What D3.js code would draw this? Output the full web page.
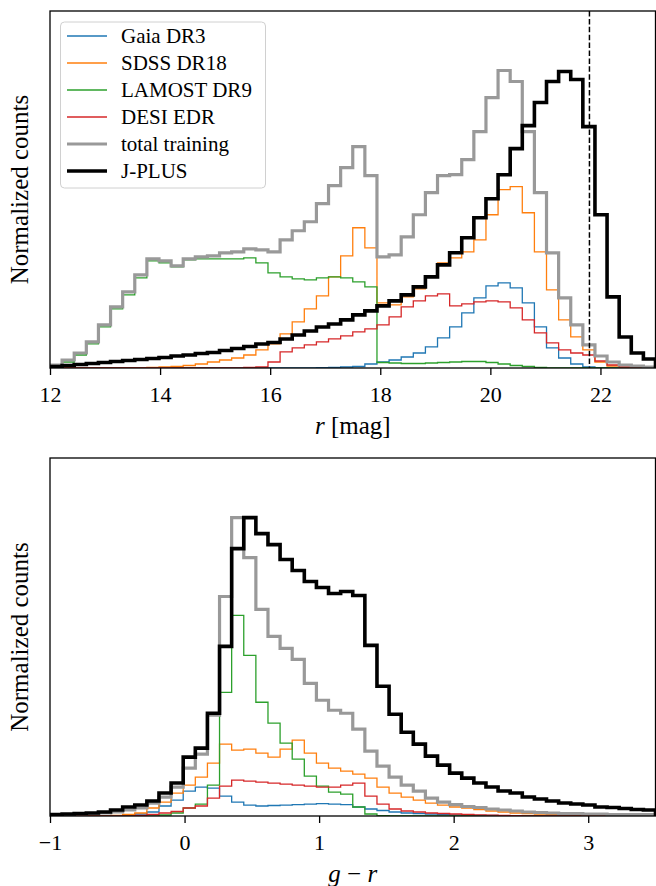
<!DOCTYPE html>
<html lang="en">
<head>
<meta charset="UTF-8">
<title>Training samples vs J-PLUS</title>
<style>
  body { margin: 0; background: #fff; }
  svg { display: block; font-family: "Liberation Serif", "DejaVu Serif", serif; }
  .label { font-size: 25px; fill: #000; }
  .legend text { font-size: 21px; fill: #000; }
</style>
</head>
<body>
<svg width="656" height="886"></svg>
<script src="https://d3js.org/d3.v7.min.js"></script>
<script>
// series, in drawing order
const names = ["Gaia DR3", "SDSS DR18", "LAMOST DR9", "DESI EDR", "total training", "J-PLUS"];
const colors = ["#1f77b4", "#ff7f0e", "#2ca02c", "#d62728", "#999999", "#000000"];
const widths = [1.3, 1.3, 1.3, 1.3, 3.2, 3.6];

// r magnitude histograms, 50 bins between 12 and 23 (normalized counts, arbitrary units)
const rRange = [12, 23];
const rTicks = [12, 14, 16, 18, 20, 22];
const rLimit = 21.8;
const gaiaR   = [0,0,0,0,0,0,0,0,0,0, 0,0,0,0,0,0,0,0,0,0, 0,0,0.3,0.5,1,1.5,4,6,8,11, 15,21,30,41,55,70,82,85,80,65, 41,20,10,4,1,0.3,0,0,0,0];
const sdssR   = [0,0,0,0,0,0,0,0,0.5,1, 1.5,2.5,4,6,8,10,13,18,24,34, 46,59,72,91,112,140,120,65,63,71, 79,92,105,110,116,128,153,178,181,155, 116,78,48,31,18,6,2,0.5,0,0];
const lamostR = [2,6,13,24,41,59,73,90,107,105, 101,108,109,109,109,109,110,105,95,91, 89,88,90,91,90,86,81,5.5,5,4.5, 4.5,5,5.5,6,6.5,6.5,5.5,4,2.5,1.5, 0.5,0.2,0,0,0,0,0,0,0,0];
const desiR   = [0,0,0,0,0,0,0,0,0,0, 0,0,0,0,0,0,0.5,1,6,16, 20,23,26,29,32,36,39,43,51,61, 67,72,74,62,64,66,67,66,60,48, 35,25,18,15,13,7,3,1,0,0];
const totalR  = [3,8,15,26,43,61,76,93,109,107, 102,109,111,112,115,116,119,118,116,128, 137,146,164,182,200,221,192,111,113,131, 153,175,192,193,208,236,270,297,286,236, 175,115,70,43,23,12,6,3,2,1];
const jplusR  = [1.5,2.5,3.5,4.5,5.5,6.5,7.5,8.5,9.5,10.5, 12,13,14.5,15.5,17.5,19.5,21.5,24,25.5,29, 33,37,41,44,48,53,57,62,67,73, 81,91,103,115,130,150,169,193,219,242, 265,286,296,288,241,153,71,31,15,9];

// g - r colour histograms, 50 bins between -1 and 3.5
const grRange = [-1, 3.5];
const grTicks = [-1, 0, 1, 2, 3];
const gaiaG   = [0,0,0,0,0,0,0.5,2,4,10, 16,25,29,28,20,14,11,10,10.5,11, 11.5,12,12.5,12,11.5,9,7,5.5,4,3, 2.5,2,1.5,1.2,1,0.7,0.5,0.3,0.2,0, 0,0,0,0,0,0,0,0,0,0];
const sdssG   = [0,0,0,0,0,0.5,1.5,3,8,14, 23,31,39,53,72,66,67,63,59,67, 76,63,53,48,45,42,38,29,23,19, 16,13,11,9,8,6.5,5,4,3,2.5, 2,1.5,1,0.7,0.4,0.2,0,0,0,0];
const lamostG = [0,0,0,0,0,0,0,0,0,1, 3,8,12,31,124,201,161,114,93,73, 57,40,30,24,22,9,2,0.3,0,0, 0,0,0,0,0,0,0,0,0,0, 0,0,0,0,0,0,0,0,0,0];
const desiG   = [0,0,0,0,0,0,0,0.5,1.5,3, 4.5,8,10,18,30,36,35,34,33,32, 31,30,29,29,31,33,20,12,7,5, 4,3,2.5,2,1.5,1.2,0.8,0.6,0.4,0.2, 0,0,0,0,0,0,0,0,0,0];
const totalG  = [1,1.5,2,2.5,3,4,6,8,13,19, 29,48,62,101,220,299,259,207,180,168, 157,133,116,106,103,87,65,50,39,31, 25,18,14,11.5,9.5,8.5,7,6,5,4, 3.5,3,2.5,2.5,2,2,1.5,1.5,1.5,1.5];
const jplusG  = [1.5,2,2.5,3,4,6,9,11,15,23, 33,59,68,103,170,268,299,283,272,257, 246,235,229,223,225,221,171,130,102,84, 72,60,51,43,38,33,29,25,23,19, 17,15,13,12,11,9,8.5,7.5,6.5,6];

const left = 50, right = 655.5;
const serif = '"Liberation Serif", "DejaVu Serif", serif';
const svg = d3.select("svg");

const edges = (range, n) => d3.range(n + 1).map(i => range[0] + i * (range[1] - range[0]) / n);

// matplotlib-like 'step' outline
const stepPoints = (e, v) => {
    const pts = [[e[0], 0]];
    v.forEach((h, i) => pts.push([e[i], h], [e[i + 1], h]));
    pts.push([e[e.length - 1], 0]);
    return pts;
};

function drawPanel(cfg) {
    const x = d3.scaleLinear().domain(cfg.range).range([left, right]);
    const y = d3.scaleLinear()
        .domain([0, d3.max(cfg.series.flat()) * 1.2])
        .range([cfg.bottom, cfg.top]);
    const e = edges(cfg.range, cfg.series[0].length);

    svg.append("clipPath").attr("id", cfg.id)
        .append("rect")
        .attr("x", left).attr("y", cfg.top)
        .attr("width", right - left).attr("height", cfg.bottom - cfg.top);

    const g = svg.append("g").attr("clip-path", `url(#${cfg.id})`);
    const line = d3.line().x(d => x(d[0])).y(d => y(d[1]));

    cfg.series.forEach((v, i) => {
        g.append("path")
            .attr("d", line(stepPoints(e, v)))
            .attr("fill", "none")
            .attr("stroke", colors[i])
            .attr("stroke-width", widths[i])
            .attr("stroke-linejoin", "miter");
    });

    if (cfg.limit !== undefined) {
        g.append("line")
            .attr("x1", x(cfg.limit)).attr("x2", x(cfg.limit))
            .attr("y1", cfg.top).attr("y2", cfg.bottom)
            .attr("stroke", "#000")
            .attr("stroke-width", 1.5)
            .attr("stroke-dasharray", "5.5,2.4");
    }

    // spines
    svg.append("rect")
        .attr("x", left).attr("y", cfg.top)
        .attr("width", right - left).attr("height", cfg.bottom - cfg.top)
        .attr("fill", "none").attr("stroke", "#000").attr("stroke-width", 1.3);

    const axis = svg.append("g")
        .attr("transform", `translate(0,${cfg.bottom})`)
        .call(d3.axisBottom(x).tickValues(cfg.ticks).tickFormat(d3.format("d"))
            .tickSize(7).tickPadding(11));
    axis.attr("font-family", serif).attr("font-size", 22);
    axis.select(".domain").remove();
    axis.selectAll(".tick line").attr("stroke", "#000").attr("stroke-width", 1.3);
    axis.selectAll(".tick text")
        .attr("fill", "#000")
        .style("font-family", serif)
        .style("font-size", "22px");

    svg.append("text").attr("class", "label")
        .attr("x", (left + right) / 2).attr("y", cfg.bottom + 66)
        .attr("text-anchor", "middle")
        .html(cfg.xlabel);

    svg.append("text").attr("class", "label")
        .attr("transform", `translate(28,${(cfg.top + cfg.bottom) / 2}) rotate(-90)`)
        .attr("text-anchor", "middle")
        .text("Normalized counts");
}

drawPanel({
    id: "clipR", top: 11, bottom: 368, range: rRange, ticks: rTicks, limit: rLimit,
    series: [gaiaR, sdssR, lamostR, desiR, totalR, jplusR],
    xlabel: '<tspan font-style="italic">r</tspan> [mag]'
});

drawPanel({
    id: "clipG", top: 458, bottom: 816, range: grRange, ticks: grTicks,
    series: [gaiaG, sdssG, lamostG, desiG, totalG, jplusG],
    xlabel: '<tspan font-style="italic">g</tspan> \u2212 <tspan font-style="italic">r</tspan>'
});

// legend
const legend = svg.append("g").attr("class", "legend");
legend.append("rect")
    .attr("x", 60.5).attr("y", 22).attr("width", 205).attr("height", 166).attr("rx", 4)
    .attr("fill", "#fff").attr("fill-opacity", 0.8)
    .attr("stroke", "#d0d0d0").attr("stroke-width", 1);

names.forEach((name, i) => {
    const cy = 36 + i * 27;
    legend.append("line")
        .attr("x1", 67).attr("x2", 107).attr("y1", cy).attr("y2", cy)
        .attr("stroke", colors[i]).attr("stroke-width", widths[i]);
    legend.append("text")
        .attr("x", 121).attr("y", cy + 7)
        .text(name);
});
</script>
</body>
</html>
